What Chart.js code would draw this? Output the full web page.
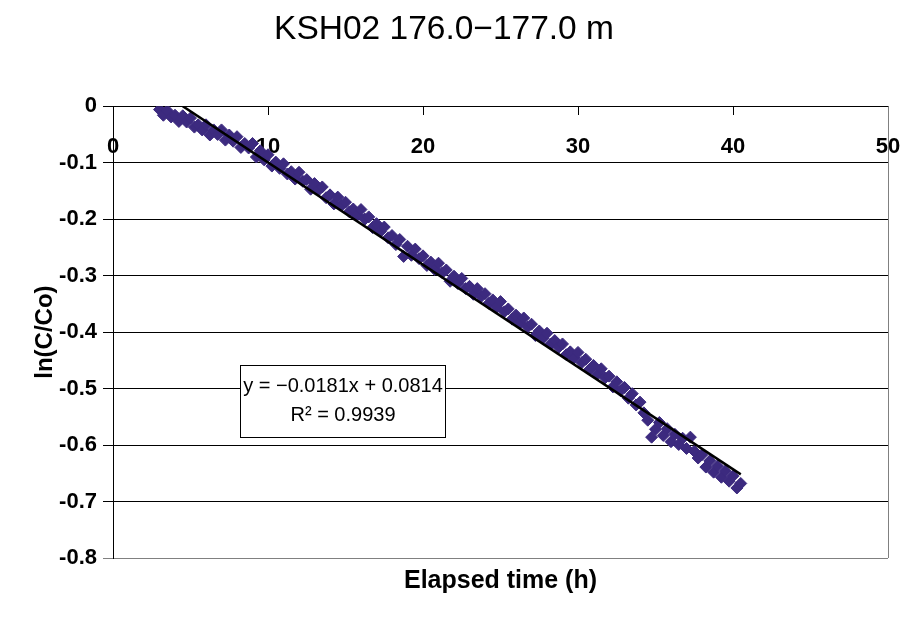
<!DOCTYPE html>
<html>
<head>
<meta charset="utf-8">
<title>KSH02 176.0−177.0 m</title>
<script src="https://cdn.jsdelivr.net/npm/chart.js@4.4.1/dist/chart.umd.min.js"></script>
<style>
  html, body { margin: 0; padding: 0; background: #fff; }
  #wrap { position: relative; width: 904px; height: 624px; }
</style>
</head>
<body>
<div id="wrap"><canvas id="chart"></canvas></div>
<script>
// ---------- Data ----------
const TITLE = 'KSH02 176.0\u2212177.0 m';
const X_TITLE = 'Elapsed time (h)';
const Y_TITLE = 'ln(C/Co)';

const X_TICKS = [0, 10, 20, 30, 40, 50];
const Y_TICKS = [0, -0.1, -0.2, -0.3, -0.4, -0.5, -0.6, -0.7, -0.8];

const elapsedHours = [
  3.0, 3.25, 3.5, 3.75, 4.0, 4.25, 4.5, 4.75, 5.0, 5.25,
  5.5, 5.75, 6.0, 6.25, 6.5, 6.75, 7.0, 7.25, 7.5, 7.75,
  8.0, 8.25, 8.5, 8.75, 9.0, 9.25, 9.5, 9.75, 10.0, 10.25,
  10.5, 10.75, 11.0, 11.25, 11.5, 11.75, 12.0, 12.25, 12.5, 12.75,
  13.0, 13.25, 13.5, 13.75, 14.0, 14.25, 14.5, 14.75, 15.0, 15.25,
  15.5, 15.75, 16.0, 16.25, 16.5, 16.75, 17.0, 17.25, 17.5, 17.75,
  18.0, 18.25, 18.5, 18.75, 19.0, 19.25, 19.5, 19.75, 20.0, 20.25,
  20.5, 20.75, 21.0, 21.25, 21.5, 21.75, 22.0, 22.25, 22.5, 22.75,
  23.0, 23.25, 23.5, 23.75, 24.0, 24.25, 24.5, 24.75, 25.0, 25.25,
  25.5, 25.75, 26.0, 26.25, 26.5, 26.75, 27.0, 27.25, 27.5, 27.75,
  28.0, 28.25, 28.5, 28.75, 29.0, 29.25, 29.5, 29.75, 30.0, 30.25,
  30.5, 30.75, 31.0, 31.25, 31.5, 31.75, 32.0, 32.25, 32.5, 32.75,
  33.0, 33.25, 33.5, 33.75, 34.0, 34.25, 34.5, 34.75, 35.0, 35.25,
  35.5, 35.75, 36.0, 36.25, 36.5, 36.75, 37.0, 37.25, 37.5, 37.75,
  38.0, 38.25, 38.5, 38.75, 39.0, 39.25, 39.5, 39.75, 40.0, 40.25,
  40.5,
];

const lnRatio = [
  -0.006, -0.016, -0.008, -0.019, -0.016, -0.027, -0.017, -0.028, -0.021, -0.037,
  -0.033, -0.042, -0.033, -0.051, -0.042, -0.050, -0.042, -0.060, -0.051, -0.062,
  -0.054, -0.073, -0.066, -0.074, -0.066, -0.090, -0.079, -0.095, -0.086, -0.106,
  -0.099, -0.110, -0.102, -0.120, -0.116, -0.129, -0.117, -0.133, -0.130, -0.147,
  -0.137, -0.149, -0.143, -0.162, -0.157, -0.173, -0.161, -0.176, -0.170, -0.187,
  -0.182, -0.193, -0.183, -0.200, -0.196, -0.215, -0.208, -0.222, -0.214, -0.233,
  -0.229, -0.245, -0.236, -0.266, -0.248, -0.264, -0.253, -0.270, -0.265, -0.282,
  -0.276, -0.289, -0.278, -0.295, -0.290, -0.310, -0.301, -0.314, -0.305, -0.323,
  -0.319, -0.333, -0.323, -0.337, -0.332, -0.349, -0.343, -0.356, -0.346, -0.364,
  -0.359, -0.377, -0.370, -0.384, -0.375, -0.391, -0.386, -0.406, -0.398, -0.411,
  -0.402, -0.421, -0.415, -0.427, -0.421, -0.440, -0.435, -0.446, -0.436, -0.454,
  -0.448, -0.466, -0.459, -0.474, -0.465, -0.481, -0.478, -0.497, -0.488, -0.504,
  -0.498, -0.517, -0.509, -0.529, -0.524, -0.543, -0.556, -0.586, -0.572, -0.560,
  -0.583, -0.571, -0.594, -0.581, -0.599, -0.588, -0.606, -0.586, -0.611, -0.623,
  -0.617, -0.639, -0.628, -0.648, -0.637, -0.657, -0.646, -0.664, -0.655, -0.676,
  -0.668,
];

// linear trendline end points
const trendHours = [4.5, 40.5];
const trendValues = [0, -0.652];

const EQUATION_LINES = ['y = \u22120.0181x + 0.0814', 'R\u00b2 = 0.9939'];

// ---------- Styling ----------
const MARKER = '#3c2a7f';
const FONT = "'Liberation Sans', Arial, Helvetica, sans-serif";
// equation label box, placed in data units
const EQ_BOX = { x0: 8.2, x1: 21.4, y0: -0.459, y1: -0.585 };

Chart.defaults.font.family = FONT;
Chart.defaults.color = '#000';

const equationBox = {
  id: 'equationBox',
  afterDatasetsDraw(chart) {
    const { ctx, scales: { x, y } } = chart;
    const left = Math.round(x.getPixelForValue(EQ_BOX.x0)) + 0.5;
    const right = Math.round(x.getPixelForValue(EQ_BOX.x1)) + 0.5;
    const top = Math.round(y.getPixelForValue(EQ_BOX.y0)) + 0.5;
    const bottom = Math.round(y.getPixelForValue(EQ_BOX.y1)) + 0.5;
    ctx.save();
    ctx.fillStyle = '#fff';
    ctx.fillRect(left, top, right - left, bottom - top);
    ctx.strokeStyle = '#000';
    ctx.lineWidth = 1;
    ctx.strokeRect(left, top, right - left, bottom - top);
    ctx.fillStyle = '#000';
    ctx.font = `20px ${FONT}`;
    ctx.textAlign = 'center';
    ctx.textBaseline = 'middle';
    const cx = (left + right) / 2;
    const h = bottom - top;
    ctx.fillText(EQUATION_LINES[0], cx, top + h * 0.29);
    ctx.fillText(EQUATION_LINES[1], cx, top + h * 0.70);
    ctx.restore();
  },
};

// gray plot-area edge on the right
const rightEdge = {
  id: 'rightEdge',
  beforeDatasetsDraw(chart) {
    const { ctx, chartArea } = chart;
    ctx.save();
    ctx.strokeStyle = '#808080';
    ctx.lineWidth = 1;
    ctx.beginPath();
    ctx.moveTo(Math.round(chartArea.right) + 0.5, chartArea.top);
    ctx.lineTo(Math.round(chartArea.right) + 0.5, chartArea.bottom);
    ctx.stroke();
    ctx.restore();
  },
};

const toPoints = (xs, ys) => xs.map((v, i) => ({ x: v, y: ys[i] }));

new Chart(document.getElementById('chart'), {
  type: 'scatter',
  data: {
    datasets: [
      {
        label: 'Trend',
        type: 'line',
        data: toPoints(trendHours, trendValues),
        borderColor: '#000',
        borderWidth: 2.5,
        pointRadius: 0,
        fill: false,
        order: 0,
      },
      {
        label: 'ln(C/Co)',
        data: toPoints(elapsedHours, lnRatio),
        pointStyle: 'rectRot',
        pointRadius: 6,
        borderWidth: 1,
        backgroundColor: MARKER,
        borderColor: MARKER,
        order: 1,
      },
    ],
  },
  options: {
    responsive: true,
    maintainAspectRatio: false,
    animation: false,
    layout: { padding: { top: 0, right: 16, bottom: 0, left: 0 } },
    plugins: {
      legend: { display: false },
      tooltip: { enabled: false },
      title: {
        display: true,
        text: TITLE,
        color: '#000',
        font: { size: 33.5, weight: 'normal' },
        padding: { top: 10, bottom: 56 },
      },
    },
    scales: {
      x: {
        type: 'linear',
        position: { y: 0 },
        min: 0,
        max: 50,
        afterBuildTicks: (s) => { s.ticks = X_TICKS.map((v) => ({ value: v })); },
        // tick padding would otherwise also be added to the side margins
        afterFit: (s) => { s.paddingLeft = 0; s.paddingRight = 0; },
        ticks: {
          padding: 20,
          maxRotation: 0,
          color: '#000',
          font: { size: 22, weight: 'bold' },
        },
        grid: { drawOnChartArea: false, drawTicks: true, tickLength: 8, color: '#000' },
        border: { color: '#000', width: 1 },
      },
      xb: {
        type: 'linear',
        position: 'bottom',
        min: 0,
        max: 50,
        ticks: { display: false },
        grid: { display: false, drawTicks: false },
        border: { display: false },
        title: {
          display: true,
          text: X_TITLE,
          color: '#000',
          font: { size: 25, weight: 'bold' },
          padding: { top: 8, bottom: 28 },
        },
      },
      y: {
        type: 'linear',
        position: 'left',
        min: -0.8,
        max: 0,
        afterBuildTicks: (s) => { s.ticks = Y_TICKS.map((v) => ({ value: v })); },
        afterFit: (s) => { s.width = 113; },
        ticks: {
          padding: 6,
          color: '#000',
          font: { size: 22, weight: 'bold' },
          callback: (v) => (Math.abs(v) < 1e-9 ? '0' : Number(v).toFixed(1)),
        },
        grid: {
          color: (c) => (c.tick && c.tick.value <= -0.8 + 1e-9 ? '#808080' : '#000'),
          tickLength: 10,
          drawTicks: true,
        },
        border: { color: '#000', width: 1 },
        title: {
          display: true,
          text: Y_TITLE,
          color: '#000',
          font: { size: 24, weight: 'bold' },
          padding: { top: 31, bottom: 0 },
        },
      },
    },
  },
  plugins: [equationBox, rightEdge],
});
</script>
</body>
</html>
